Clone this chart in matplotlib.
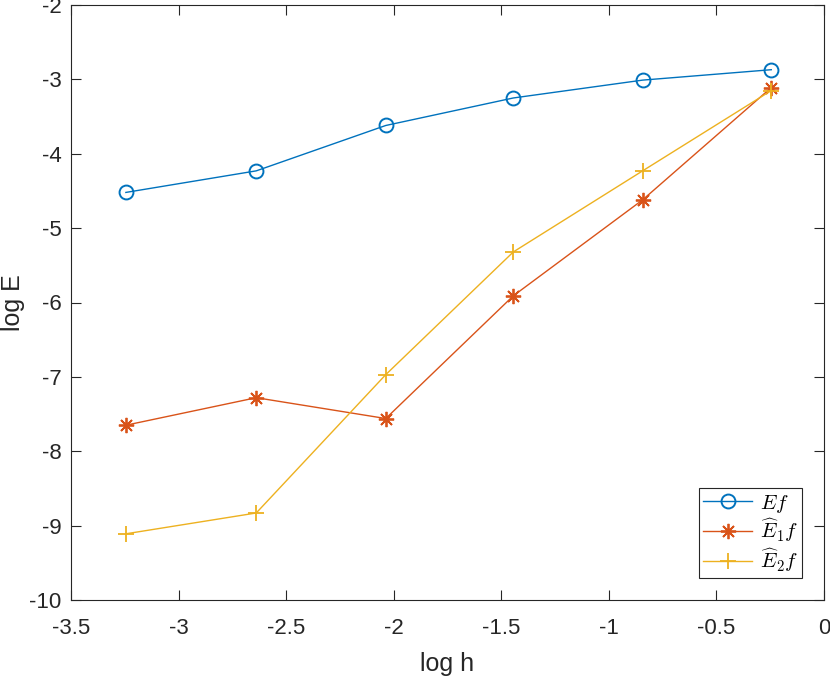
import matplotlib
matplotlib.use("Agg")
import matplotlib.pyplot as plt

plt.rcParams.update({
    "font.family": ["Liberation Sans", "DejaVu Sans"],
    "mathtext.fontset": "cm",
    "axes.unicode_minus": False,
})

log_h = [-3.245, -2.639, -2.037, -1.444, -0.843, -0.245]
ef = [-4.52, -4.23, -3.62, -3.25, -3.01, -2.87]
e1f = [-7.65, -7.28, -7.56, -5.91, -4.62, -3.11]
e2f = [-9.11, -8.83, -6.97, -5.32, -4.23, -3.15]

C_BLUE, C_RED, C_YEL = "#0072bd", "#d95319", "#edb120"
INK = "#262626"

fig = plt.figure(figsize=(8.30, 6.78), dpi=100)
ax = fig.add_axes([71 / 830, 78 / 678, 753 / 830, 595 / 678])

ax.plot(log_h, ef, "-o", color=C_BLUE, lw=1, ms=10, mfc="none", mew=1.4, label=r"$Ef$")
ax.plot(log_h, e1f, "-", marker=(8, 2, 0), color=C_RED, lw=1, ms=11, mew=1.3,
        label=r"$\widehat{E}_1 f$")
ax.plot(log_h, e2f, "-+", color=C_YEL, lw=1, ms=12, mew=1.3, label=r"$\widehat{E}_2 f$")

ax.set_xlim(-3.5, 0)
ax.set_ylim(-10, -2)
ax.set_xticks([-3.5, -3, -2.5, -2, -1.5, -1, -0.5, 0])
ax.set_xticklabels(["-3.5", "-3", "-2.5", "-2", "-1.5", "-1", "-0.5", "0"])
ax.set_yticks(range(-10, -1))
ax.set_yticklabels([str(v) for v in range(-10, -1)])
ax.tick_params(direction="in", top=True, right=True, labelsize=16, length=7,
               color=INK, labelcolor=INK)
ax.tick_params(axis="x", pad=13)
ax.tick_params(axis="y", pad=7)
for s in ax.spines.values():
    s.set_color(INK)
    s.set_linewidth(0.8)

ax.set_xlabel("log h", fontsize=18, color=INK, labelpad=9)
ax.set_ylabel("log E", fontsize=18, color=INK, labelpad=3)

leg = ax.legend(loc="lower right", fontsize=15, fancybox=False, framealpha=1,
                edgecolor=INK, borderaxespad=1.05, handlelength=2.35,
                handletextpad=0.35, borderpad=0.2, labelspacing=0.1)
leg.get_frame().set_linewidth(0.8)

fig.savefig("out.png", dpi=100)
